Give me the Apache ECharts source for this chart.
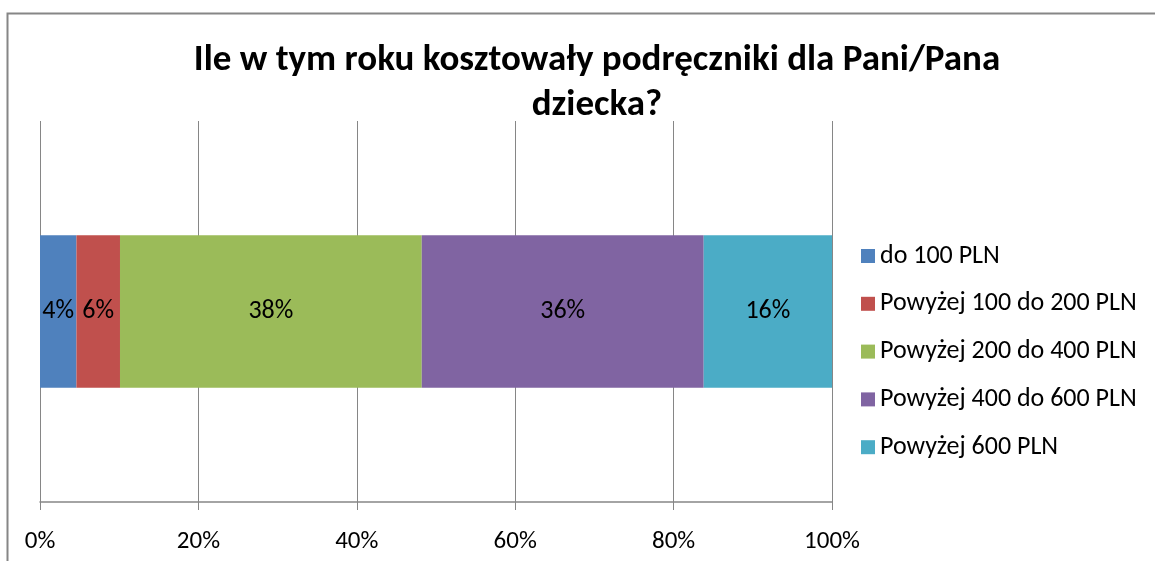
<!DOCTYPE html>
<html>
<head>
<meta charset="utf-8">
<script src="https://cdn.jsdelivr.net/npm/echarts@6/dist/echarts.min.js"></script>
<style>
  html, body { margin: 0; padding: 0; background: #fff; }
  #chart { width: 1155px; height: 561px; }
</style>
</head>
<body>
<div id="chart"></div>
<script>
// based on prepared DOM, initialize echarts instance
var myChart = echarts.init(document.getElementById('chart'));

var seriesNames = ['do 100 PLN', 'Powyżej 100 do 200 PLN', 'Powyżej 200 do 400 PLN', 'Powyżej 400 do 600 PLN', 'Powyżej 600 PLN'];
var seriesValues = [4.6, 5.5, 38.1, 35.6, 16.2];
var seriesLabels = ['4%', '6%', '38%', '36%', '16%'];
var colors = ['#4f81bd', '#c0504d', '#9bbb59', '#8064a2', '#4bacc6'];
var xTicks = [0, 20, 40, 60, 80, 100];

var font = 'Carlito, Calibri, Lato, "Noto Sans", sans-serif';

var series = [];
for (var i = 0; i < seriesNames.length; i++) {
    series.push({
        name: seriesNames[i],
        type: 'bar',
        stack: 'total',
        barWidth: '40%',
        itemStyle: { color: colors[i] },
        label: {
            show: true,
            position: 'inside',
            color: '#000',
            fontFamily: font,
            fontSize: 26,
            formatter: (function (txt) { return function () { return txt; }; })(seriesLabels[i])
        },
        data: [seriesValues[i]]
    });
}

option = {
    animation: false,
    title: {
        text: 'Ile w tym roku kosztowały podręczniki dla Pani/Pana\ndziecka?',
        left: 592,
        top: 33,
        textAlign: 'center',
        textStyle: {
            fontFamily: font,
            fontWeight: 'bold',
            fontSize: 37,
            lineHeight: 45,
            color: '#000'
        }
    },
    legend: {
        orient: 'vertical',
        left: 856,
        top: 238,
        itemWidth: 14,
        itemHeight: 14,
        itemGap: 21.8,
        icon: 'rect',
        data: seriesNames,
        textStyle: {
            fontFamily: font,
            fontSize: 26,
            lineHeight: 26,
            color: '#000'
        }
    },
    grid: {
        left: 40,
        right: 323,
        top: 121,
        bottom: 59
    },
    xAxis: {
        type: 'value',
        min: 0,
        max: 100,
        interval: 20,
        axisLine: { show: true, lineStyle: { color: '#868686', width: 1.5 } },
        axisTick: { show: true, length: 8, lineStyle: { color: '#868686' } },
        splitLine: { show: true, lineStyle: { color: '#868686', width: 1 } },
        axisLabel: {
            margin: 27,
            color: '#000',
            fontFamily: font,
            fontSize: 25,
            formatter: function (v) { return xTicks.indexOf(v) >= 0 ? v + '%' : ''; }
        }
    },
    yAxis: {
        type: 'category',
        data: [''],
        axisLine: { show: false },
        axisTick: { show: false },
        axisLabel: { show: false }
    },
    graphic: [{
        type: 'rect',
        shape: { x: 7.5, y: 13.5, width: 1200, height: 600 },
        style: { fill: 'none', stroke: '#868686', lineWidth: 2 },
        silent: true
    }],
    series: series
};

// use configuration item and data specified to show chart
myChart.setOption(option);
</script>
</body>
</html>
